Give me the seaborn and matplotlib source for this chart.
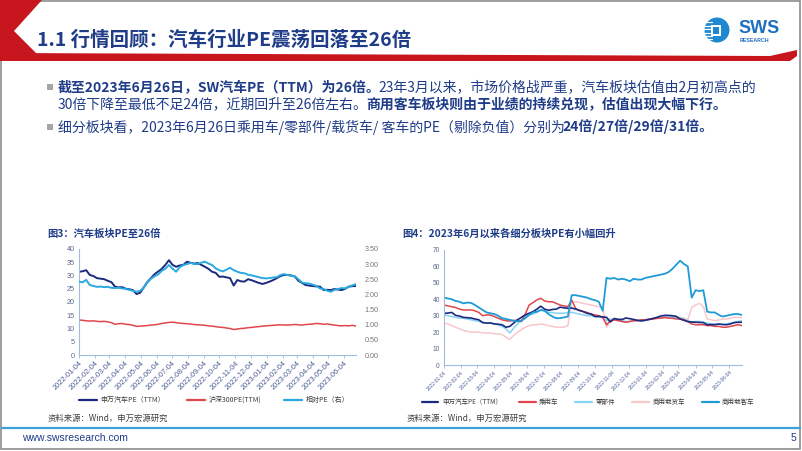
import numpy as np
import pandas as pd
import matplotlib
matplotlib.use("Agg")
import matplotlib.pyplot as plt
import matplotlib.dates as mdates
import seaborn as sns
from matplotlib.patches import Polygon, Rectangle, Circle
from matplotlib.lines import Line2D
from matplotlib.ticker import FormatStrFormatter

# ---------------- data (weekly readings, 2022-01-04 .. 2023-06-27) ----------------
dates = pd.date_range("2022-01-04", periods=78, freq="7D")

sw_auto_pe = [31.4, 31.6, 32.0, 30.2, 29.8, 29.0, 28.8, 28.6, 28.0, 27.5,
              25.8, 25.5, 25.6, 25.0, 24.8, 24.5, 23.0, 23.5, 25.5, 27.5,
              29.0, 30.5, 31.5, 32.5, 34.0, 35.8, 34.0, 33.3, 33.8, 34.0,
              35.2, 34.8, 34.5, 34.7, 34.0, 33.3, 32.5, 31.4, 31.0, 29.5,
              29.6, 29.3, 29.0, 26.2, 28.3, 27.8, 27.7, 28.6, 28.2, 27.7,
              27.2, 26.8, 27.2, 27.7, 28.3, 29.0, 29.8, 30.2, 30.2, 30.0,
              29.6, 28.0, 27.2, 26.4, 26.2, 26.0, 25.9, 25.8, 24.5, 24.6,
              24.5, 24.9, 24.7, 24.5, 25.0, 25.8, 26.0, 26.0]

hs300_pe = [13.2, 13.1, 12.9, 12.8, 12.9, 12.7, 12.6, 12.7, 12.5, 12.2,
            11.6, 11.8, 11.9, 11.6, 11.5, 11.2, 10.8, 10.9, 11.0, 11.1,
            11.3, 11.4, 11.6, 11.9, 12.1, 12.3, 12.4, 12.2, 12.0, 11.9,
            11.8, 11.7, 11.5, 11.4, 11.3, 11.2, 11.0, 10.9, 10.7, 10.5,
            10.4, 10.2, 10.0, 9.6, 9.8, 10.0, 10.1, 10.3, 10.4, 10.6,
            10.7, 10.9, 11.0, 11.1, 11.2, 11.3, 11.4, 11.3, 11.3, 11.4,
            11.5, 11.4, 11.3, 11.5, 11.6, 11.7, 11.9, 11.8, 11.6, 11.7,
            11.5, 11.3, 11.1, 11.0, 11.1, 11.0, 11.2, 10.9]

relative_pe = [2.42, 2.40, 2.48, 2.31, 2.28, 2.25, 2.26, 2.24, 2.25, 2.22,
               2.21, 2.22, 2.20, 2.18, 2.15, 2.12, 2.09, 2.12, 2.22, 2.40,
               2.52, 2.60, 2.66, 2.78, 2.85, 2.97, 2.85, 2.75, 2.90, 2.97,
               3.00, 3.04, 3.01, 3.00, 3.05, 3.08, 3.02, 2.97, 2.86, 2.80,
               2.76, 2.82, 2.88, 2.80, 2.75, 2.71, 2.70, 2.65, 2.63, 2.60,
               2.57, 2.54, 2.53, 2.54, 2.56, 2.57, 2.64, 2.67, 2.64, 2.62,
               2.60, 2.50, 2.39, 2.37, 2.36, 2.32, 2.28, 2.20, 2.18, 2.12,
               2.09, 2.15, 2.18, 2.21, 2.20, 2.25, 2.30, 2.34]

passenger_pe = [36.5, 36.0, 35.5, 35.0, 34.0, 33.5, 33.5, 33.5, 33.0, 32.0,
                30.0, 30.5, 30.4, 29.5, 28.5, 27.5, 27.0, 26.8, 27.0, 27.4,
                26.4, 31.0, 36.5, 38.0, 39.6, 40.6, 39.0, 38.5, 38.5, 37.5,
                36.5, 36.0, 35.5, 39.5, 34.5, 33.0, 32.5, 32.0, 31.0, 30.5,
                30.0, 29.0, 24.5, 27.0, 27.5, 27.0, 26.5, 26.0, 26.5, 27.0,
                27.0, 27.5, 27.5, 28.0, 28.0, 28.5, 28.5, 29.0, 28.5, 28.5,
                28.0, 28.0, 27.5, 26.5, 25.0, 24.5, 24.5, 24.5, 24.0, 24.0,
                23.5, 23.5, 23.0, 23.0, 23.5, 24.0, 24.5, 24.0]

parts_pe = [30.5, 30.0, 29.5, 29.0, 28.5, 28.5, 28.0, 27.5, 27.0, 26.5,
            26.0, 25.5, 25.5, 25.0, 24.5, 23.5, 22.0, 19.5, 22.5, 25.0,
            27.5, 29.5, 30.5, 31.0, 32.0, 33.5, 33.0, 32.0, 32.0, 31.5,
            31.5, 31.5, 32.0, 32.0, 31.5, 31.0, 30.5, 30.0, 30.0, 29.5,
            29.0, 29.0, 27.0, 28.0, 28.0, 27.5, 27.0, 26.5, 26.5, 27.0,
            27.0, 27.5, 27.5, 28.0, 28.5, 28.5, 29.0, 29.0, 29.5, 29.0,
            29.0, 28.5, 28.0, 27.0, 26.0, 26.5, 26.5, 26.0, 25.5, 25.0,
            25.0, 25.0, 24.5, 25.0, 25.5, 26.0, 26.5, 27.0]

truck_pe = [25.5, 25.0, 24.0, 23.0, 22.0, 21.0, 20.5, 20.0, 20.0, 20.0,
            19.5, 19.5, 19.5, 19.0, 19.0, 18.5, 17.0, 15.5, 18.0, 20.0,
            21.5, 23.0, 24.0, 24.5, 24.5, 25.0, 24.5, 24.0, 23.5, 23.0,
            23.0, 23.0, 24.0, 38.0, 38.5, 38.0, 37.5, 37.0, 36.5, 36.0,
            35.5, 35.0, 23.0, 27.0, 27.5, 27.0, 26.5, 26.0, 26.5, 26.5,
            27.0, 27.0, 27.5, 27.5, 28.0, 28.0, 28.5, 28.5, 29.0, 29.0,
            29.5, 29.0, 28.5, 27.5, 35.0, 36.5, 37.5, 35.5, 28.0, 27.5,
            27.0, 27.5, 28.0, 28.0, 28.5, 29.0, 29.0, 29.0]

bus_pe = [41.0, 40.5, 40.0, 39.0, 38.5, 37.5, 38.0, 37.8, 36.5, 35.0,
          33.5, 32.0, 31.5, 31.0, 30.0, 28.5, 28.0, 27.5, 27.0, 26.5,
          27.0, 28.5, 30.5, 32.0, 32.5, 33.5, 33.0, 31.0, 29.5, 28.5,
          28.5, 29.0, 29.5, 42.5, 42.5, 42.0, 41.5, 41.0, 40.0, 39.5,
          38.5, 33.0, 53.0, 52.5, 53.0, 52.0, 52.5, 52.0, 51.0, 52.5,
          52.0, 52.0, 53.0, 53.5, 54.0, 54.5, 55.0, 55.5, 56.5, 58.5,
          61.0, 63.5, 61.5, 60.0, 41.0, 45.5, 45.0, 45.5, 32.5, 32.0,
          32.0, 30.5, 29.5, 30.0, 30.5, 31.0, 31.0, 30.5]

left_labels = ["申万汽车PE（TTM）", "沪深300PE(TTM)", "相对PE（右）"]
right_labels = ["申万汽车PE（TTM）", "乘用车", "零部件", "商用载货车", "商用载客车"]

# ---------------- style ----------------
sns.set_theme(style="white")
plt.rcParams["font.family"] = ["Noto Sans CJK SC", "DejaVu Sans"]
plt.rcParams["axes.unicode_minus"] = False

NAVY = "#1B2A7E"
RED = "#E0474C"
LBLUE = "#2AA9E0"
CYAN = "#86D3F3"
PINK = "#F8C8CB"
BUS = "#1E9BD7"
TXT = "#1F3C88"
SPINE = "#9DBCE0"
TICKC = "#4A5E96"

W, H = 802, 451
fig = plt.figure(figsize=(W / 100, H / 100), dpi=100)
fig.patch.set_facecolor("white")


def fx(x):
    return x / W


def fy(y):
    return 1 - y / H


def rect(x0, y0, x1, y1):
    return [x0 / W, 1 - y1 / H, (x1 - x0) / W, (y1 - y0) / H]


# background layer in pixel coordinates
bg = fig.add_axes([0, 0, 1, 1], zorder=0)
bg.set_xlim(0, W)
bg.set_ylim(H, 0)
bg.axis("off")

bg.add_patch(Rectangle((1, 1), 799, 448, fill=False, edgecolor="#8C8C8C", lw=1.2))
bg.add_patch(Polygon([(0, 0), (42, 0), (14, 31), (37, 54), (0, 54)], closed=True,
                     facecolor="#C8161E", edgecolor="none"))
bg.add_patch(Polygon([(0, 53), (770, 56), (797, 50), (797, 56), (790, 61), (0, 61)],
                     closed=True, facecolor="#C8161E", edgecolor="none"))
bg.plot([2, 800], [428, 428], color="#3BA3DB", lw=1.6)

# logo
bg.add_patch(Circle((717, 30), 12.5, facecolor="#1E88D0", edgecolor="none"))
for yy in [22, 25.5, 29, 32.5, 36, 39]:
    bg.plot([704, 712], [yy, yy], color="white", lw=0.9)
bg.add_patch(Rectangle((711, 24.5), 10, 11, facecolor="white", edgecolor="none"))
bg.add_patch(Rectangle((713, 26.5), 6, 7, facecolor="#1E88D0", edgecolor="none"))
fig.text(fx(738), fy(28.5), "SWS", fontsize=13, fontweight="bold", color="#1E6FC0",
         family="Liberation Sans", va="center", ha="left")
fig.text(fx(739.5), fy(40), "RESEARCH", fontsize=3.8, fontweight="bold", color="#1E6FC0",
         family="Liberation Sans", va="center", ha="left")

# header title
fig.text(fx(37), fy(40), "1.1 行情回顾：汽车行业PE震荡回落至26倍", fontsize=14,
         fontweight="bold", color=TXT, va="center", ha="left")

# body text with bold/normal runs
renderer = fig.canvas.get_renderer()


def text_runs(x, y, parts, size=10):
    for s, bold in parts:
        t = fig.text(fx(x), fy(y), s, fontsize=size,
                     fontweight="bold" if bold else "normal",
                     color=TXT, va="center", ha="left")
        x = t.get_window_extent(renderer).x1 - 2


for yy in (87, 127):
    bg.add_patch(Rectangle((47, yy - 3.5), 6, 6, facecolor="#A6A6A6", edgecolor="none"))

text_runs(58, 87, [("截至2023年6月26日，SW汽车PE（TTM）为26倍。", True),
                   ("23年3月以来，市场价格战严重，汽车板块估值由2月初高点的", False)])
text_runs(58, 104, [("30倍下降至最低不足24倍，近期回升至26倍左右。", False),
                    ("商用客车板块则由于业绩的持续兑现，估值出现大幅下行。", True)])
text_runs(58, 127, [("细分板块看，2023年6月26日乘用车/零部件/载货车/ 客车的PE（剔除负值）分别为", False),
                    ("24倍/27倍/29倍/31倍。", True)])

# chart titles and sources
fig.text(fx(47), fy(234), "图3：汽车板块PE至26倍", fontsize=7.4, fontweight="bold",
         color=TXT, va="center", ha="left")
fig.text(fx(402), fy(234), "图4：2023年6月以来各细分板块PE有小幅回升", fontsize=7.4,
         fontweight="bold", color=TXT, va="center", ha="left")
fig.text(fx(48), fy(418), "资料来源：Wind，申万宏源研究", fontsize=6, color="#404040",
         va="center", ha="left")
fig.text(fx(407), fy(418), "资料来源：Wind，申万宏源研究", fontsize=6, color="#404040",
         va="center", ha="left")

# footer
fig.text(fx(22), fy(438), "www.swsresearch.com", fontsize=7.5, color=TXT,
         family="Liberation Sans", va="center", ha="left")
fig.text(fx(796), fy(438), "5", fontsize=7.5, color=TXT, family="Liberation Sans",
         va="center", ha="right")

xmin, xmax = pd.Timestamp("2022-01-04"), pd.Timestamp("2023-06-27")


def style_axes(ax, xsize, ysize):
    ax.set_xlim(xmin, xmax)
    ax.set_xlabel("")
    ax.set_ylabel("")
    for side in ("top", "right"):
        ax.spines[side].set_visible(False)
    for side in ("left", "bottom"):
        ax.spines[side].set_color(SPINE)
        ax.spines[side].set_linewidth(0.8)
    ax.xaxis.set_major_locator(mdates.MonthLocator(bymonthday=4))
    ax.xaxis.set_major_formatter(mdates.DateFormatter("%Y-%m-%d"))
    ax.tick_params(axis="x", length=2, width=0.6, color=SPINE, direction="out",
                   labelsize=xsize, labelcolor=TICKC, pad=1.5, bottom=True)
    ax.tick_params(axis="y", length=0, labelsize=ysize, labelcolor="#5A6A8C", pad=3, left=False)
    plt.setp(ax.get_xticklabels(), rotation=45, ha="right", rotation_mode="anchor",
             family="Liberation Sans")
    plt.setp(ax.get_yticklabels(), family="Liberation Sans")
    ax.grid(False)
    ax.set_facecolor("none")


# ---------------- left chart ----------------
df1 = pd.DataFrame({"date": dates, "sw": sw_auto_pe, "hs": hs300_pe, "rel": relative_pe})
ax1 = fig.add_axes(rect(79, 249, 356, 355), zorder=2)
sns.lineplot(data=df1, x="date", y="sw", ax=ax1, color=NAVY, lw=1.4)
sns.lineplot(data=df1, x="date", y="hs", ax=ax1, color=RED, lw=1.1)
ax1.set_ylim(0, 40)
ax1.set_yticks(range(0, 41, 5))
style_axes(ax1, 5.3, 5.2)

ax1b = ax1.twinx()
sns.lineplot(data=df1, x="date", y="rel", ax=ax1b, color=LBLUE, lw=1.4)
ax1b.set_ylim(0, 3.5)
ax1b.set_yticks(np.arange(0, 3.51, 0.5))
ax1b.yaxis.set_major_formatter(FormatStrFormatter("%.2f"))
ax1b.set_xlim(xmin, xmax)
ax1b.set_xlabel("")
ax1b.set_ylabel("")
for s in ax1b.spines.values():
    s.set_visible(False)
ax1b.tick_params(axis="y", length=0, labelsize=5.2, labelcolor="#777777", pad=6)
plt.setp(ax1b.get_yticklabels(), family="Liberation Sans")
ax1b.grid(False)

h1 = [Line2D([0], [0], color=c, lw=1.6) for c in (NAVY, RED, LBLUE)]
leg1 = fig.legend(h1, left_labels, loc="center", bbox_to_anchor=(fx(214), fy(400)),
                  ncol=3, frameon=False, fontsize=5, handlelength=2.6,
                  columnspacing=3.2, handletextpad=0.5)
for t in leg1.get_texts():
    t.set_color("#3A3A3A")

# ---------------- right chart ----------------
df2 = pd.DataFrame({"date": dates, "sw": sw_auto_pe, "car": passenger_pe,
                    "parts": parts_pe, "truck": truck_pe, "bus": bus_pe})
ax2 = fig.add_axes(rect(444, 250, 742, 365), zorder=2)
sns.lineplot(data=df2, x="date", y="truck", ax=ax2, color=PINK, lw=1.1)
sns.lineplot(data=df2, x="date", y="parts", ax=ax2, color=CYAN, lw=1.1)
sns.lineplot(data=df2, x="date", y="car", ax=ax2, color=RED, lw=1.1)
sns.lineplot(data=df2, x="date", y="sw", ax=ax2, color=NAVY, lw=1.2)
sns.lineplot(data=df2, x="date", y="bus", ax=ax2, color=BUS, lw=1.3)
ax2.set_ylim(0, 70)
ax2.set_yticks(range(0, 71, 10))
style_axes(ax2, 3.5, 4.8)

h2 = [Line2D([0], [0], color=c, lw=1.6) for c in (NAVY, RED, CYAN, PINK, BUS)]
leg2 = fig.legend(h2, right_labels, loc="center", bbox_to_anchor=(fx(588), fy(402)),
                  ncol=5, frameon=False, fontsize=4.7, handlelength=2.6,
                  columnspacing=2.6, handletextpad=0.5)
for t in leg2.get_texts():
    t.set_color("#3A3A3A")

fig.savefig("out.png", dpi=100, facecolor="white")
